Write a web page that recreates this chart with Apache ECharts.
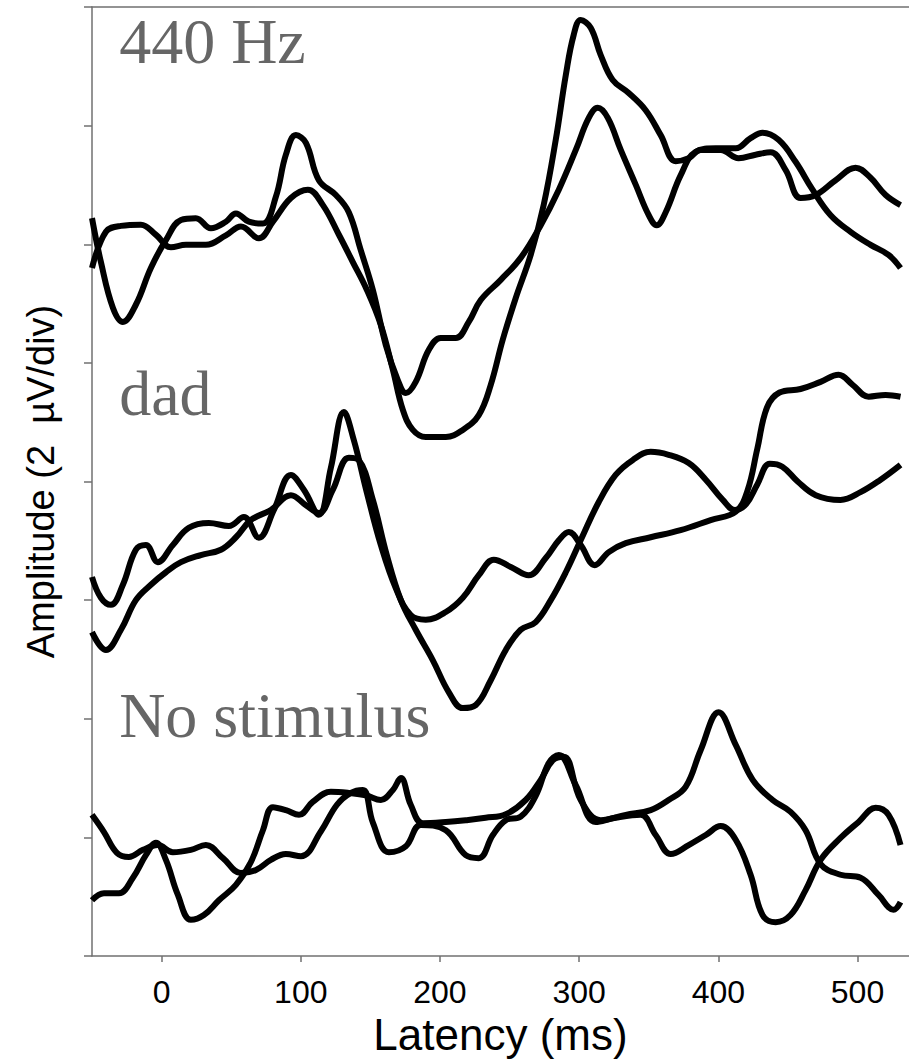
<!DOCTYPE html>
<html><head><meta charset="utf-8">
<script src="https://cdn.jsdelivr.net/npm/echarts@6/dist/echarts.min.js"></script>
<style>html,body{margin:0;padding:0;background:#fff}#c{width:909px;height:1063px}</style>
</head><body><div id="c"></div>
<script>
// Latency ticks (ms)
const xTicks = [0, 100, 200, 300, 400, 500];
const xRange = [-50, 537];
const yRange = [0, 16]; // µV, 2 µV per division
const yStep = 2;

// 440 Hz traces: [latency ms, amplitude µV]
const hz440A = [[-50,12.44],[-43.6,11.70],[-35,10.93],[-27.8,10.69],[-18.5,10.98],[-7.7,11.60],[3.1,12.07],[13.9,12.41],[24.6,12.44],[35.4,12.27],[46.2,12.38],[53.4,12.52],[62.7,12.38],[72.8,12.35],[82.1,12.80],[89.3,13.51],[96.5,13.84],[103.7,13.71],[113,13.08],[125.2,12.83],[134.5,12.54],[143.1,11.90],[151.8,11.23],[161.1,10.30],[169.7,9.71],[175.5,9.49],[182.6,9.68],[192,10.22],[200.6,10.42],[211.4,10.42],[220.7,10.69],[229.3,11.06],[243.7,11.40],[258,11.77],[272.4,12.32],[285.4,12.92],[297.6,13.59],[306.9,14.13],[313.4,14.30],[320.6,14.13],[329.9,13.59],[340.7,13.00],[350,12.49],[355.7,12.32],[362.2,12.54],[372.9,13.16],[383.7,13.56],[398.1,13.62],[412.5,13.62],[423.2,13.79],[431.8,13.88],[443.3,13.76],[455.5,13.39],[467.7,12.92],[480.7,12.49],[495,12.21],[509.4,11.99],[522.3,11.82],[530.9,11.60]];
const hz440B = [[-50,11.60],[-40,12.21],[-29.2,12.31],[-14.9,12.33],[-4.1,12.16],[6.7,11.95],[17.5,11.99],[31.8,11.99],[46.2,12.15],[57,12.30],[69.9,12.10],[80,12.38],[92.9,12.78],[105.1,12.92],[115.9,12.66],[127.4,12.16],[137.4,11.70],[147.5,11.23],[157.5,10.64],[166.2,9.88],[173.3,9.21],[180.5,8.87],[189.8,8.75],[204.2,8.75],[216.4,8.87],[227.9,9.12],[236.5,9.63],[245.1,10.39],[254.4,11.09],[265.2,11.82],[274.5,12.66],[283.2,13.76],[290.4,14.85],[296.1,15.53],[301.1,15.78],[308.3,15.65],[315.5,15.19],[324.1,14.77],[335.6,14.55],[347.8,14.26],[358.6,13.84],[369.4,13.40],[378.7,13.45],[387.3,13.59],[401.7,13.59],[414.6,13.45],[426.8,13.51],[437.6,13.55],[448.4,13.25],[459.1,12.78],[469.9,12.83],[484.3,13.08],[498.6,13.29],[509.4,13.12],[520.2,12.83],[530.9,12.66]];

// "dad" traces
const dadA = [[-50,6.39],[-43.6,6.04],[-36.4,5.92],[-27.8,6.26],[-18.5,6.85],[-11.3,6.93],[-2.7,6.64],[8.1,6.93],[19.6,7.22],[34,7.30],[48.3,7.25],[59.1,7.40],[69.9,7.05],[80.7,7.52],[92.9,8.11],[102.2,7.86],[113,7.44],[121.6,8.23],[131,9.17],[138.1,8.70],[147.4,7.82],[157.5,6.93],[168.3,6.20],[179,5.75],[189.8,5.67],[204.2,5.80],[216.4,6.04],[227.9,6.42],[238.7,6.68],[250.9,6.56],[263.8,6.42],[276,6.71],[285.4,7.01],[292.6,7.15],[301.1,6.93],[311.2,6.59],[321.3,6.81],[333.5,6.96],[351.4,7.06],[372.9,7.18],[394.5,7.35],[412.5,7.49],[421,7.85],[428,8.55],[435,9.25],[444,9.50],[459.1,9.56],[473.5,9.68],[486.4,9.80],[496.5,9.63],[508,9.43],[520.2,9.46],[530.9,9.43]];
const dadB = [[-50,5.46],[-40,5.16],[-29.2,5.50],[-18.5,6.00],[-7.7,6.26],[3.1,6.47],[13.9,6.64],[28.2,6.76],[42.6,6.85],[53.4,7.06],[64.1,7.35],[78.5,7.52],[92.9,7.77],[103.7,7.60],[113,7.47],[123,7.86],[134.5,8.40],[141.7,8.36],[151.8,7.69],[161.8,6.76],[171.9,6.00],[182.6,5.50],[194.8,4.99],[206.3,4.45],[216.4,4.18],[225.7,4.23],[236.5,4.65],[247.3,5.16],[258,5.50],[268.8,5.63],[279.6,6.00],[290.4,6.47],[301.1,7.01],[314,7.65],[326.2,8.11],[338.4,8.36],[351.4,8.50],[364.3,8.45],[378.7,8.31],[391,8.03],[403.2,7.69],[412,7.52],[420,7.62],[428,7.95],[437,8.30],[446,8.25],[457,8.00],[470,7.77],[487.8,7.69],[502.2,7.82],[516.6,8.03],[530.9,8.28]];

// "No stimulus" traces
const noneA = [[-50,2.38],[-41.4,2.09],[-32.1,1.74],[-23.5,1.67],[-13.4,1.79],[-2.7,1.87],[8.1,1.75],[21,1.79],[31.8,1.87],[44.1,1.65],[57,1.40],[67.8,1.45],[78.5,1.62],[89.3,1.72],[100.1,1.68],[114.4,2.10],[126,2.55],[136,2.75],[144.6,2.80],[151.8,2.25],[163.3,1.75],[175.5,1.85],[186.2,2.21],[204.2,2.12],[218.5,1.70],[227.9,1.65],[238,2.04],[247.3,2.29],[258,2.35],[268.8,2.70],[278.1,3.25],[285.4,3.39],[297.6,2.88],[311.9,2.26],[326.2,2.33],[344.2,2.38],[355,2.04],[365.8,1.72],[378.7,1.87],[391,2.04],[401.7,2.19],[412.5,1.96],[423.2,1.37],[431.8,0.69],[441.2,0.57],[451.9,0.69],[462.7,1.11],[473.5,1.62],[487.8,1.99],[500.8,2.26],[513,2.50],[522.3,2.38],[530.9,1.87]];
const noneB = [[-50,0.94],[-41.4,1.06],[-30.6,1.06],[-20.6,1.32],[-11.3,1.70],[-4.1,1.91],[3.1,1.62],[11.7,1.03],[21,0.61],[30.4,0.69],[41.2,0.94],[53.4,1.20],[64.1,1.58],[72.8,2.12],[80,2.51],[89.3,2.46],[98.7,2.38],[108.7,2.60],[121.6,2.77],[134.5,2.75],[146.7,2.71],[157.5,2.63],[166.2,2.80],[171.9,3.00],[179,2.55],[187.7,2.24],[204.2,2.26],[218.5,2.29],[232.8,2.33],[247.3,2.39],[261.6,2.63],[272.4,2.97],[281,3.30],[288.9,3.36],[301.1,2.63],[315.5,2.29],[333.5,2.38],[351.4,2.46],[364.3,2.63],[376.5,2.85],[387.3,3.47],[400.2,4.11],[412.5,3.56],[424.7,2.97],[439,2.63],[451.9,2.43],[462.7,2.12],[473.5,1.55],[487.8,1.37],[502.2,1.32],[515.1,1.03],[525.9,0.78],[530.9,0.91]];

// Condition labels placed in data coordinates
const condNames = ['440 Hz', 'dad', 'No stimulus'];
const condPos = [[-30.5, 15.42], [-30.5, 9.49], [-30.5, 4.05]];

const traces = [hz440A, hz440B, dadA, dadB, noneA, noneB];
const axisGray = '#707070';

const chart = echarts.init(document.getElementById('c'), null, {renderer: 'svg'});
chart.setOption({
  animation: false,
  backgroundColor: '#ffffff',
  grid: {left: 92, right: 0, top: 7, bottom: 107},
  xAxis: [{
    type: 'value', min: xRange[0], max: xRange[1],
    name: 'Latency (ms)', nameLocation: 'middle', nameGap: 53,
    nameTextStyle: {fontFamily: 'Liberation Sans', fontSize: 44, color: '#000'},
    axisLine: {show: true, onZero: false, lineStyle: {color: axisGray, width: 1.5}},
    axisTick: {show: true, inside: false, length: 6, customValues: xTicks, lineStyle: {color: axisGray, width: 1.5}},
    axisLabel: {show: true, customValues: xTicks, margin: 20, fontFamily: 'Liberation Sans', fontSize: 32, color: '#000'},
    splitLine: {show: false}
  }, {
    type: 'value', position: 'top', min: xRange[0], max: xRange[1],
    axisLine: {show: true, onZero: false, lineStyle: {color: axisGray, width: 1.5}},
    axisTick: {show: false}, axisLabel: {show: false}, splitLine: {show: false}
  }],
  yAxis: {
    type: 'value', min: yRange[0], max: yRange[1], interval: yStep,
    name: 'Amplitude (2  \u00B5V/div)', nameLocation: 'middle', nameGap: 32,
    nameTextStyle: {fontFamily: 'Liberation Sans', fontSize: 38, color: '#000'},
    axisLine: {show: true, onZero: false, lineStyle: {color: axisGray, width: 1.5}},
    axisTick: {show: true, inside: false, length: 8, lineStyle: {color: axisGray, width: 1.5}},
    axisLabel: {show: false},
    splitLine: {show: false}
  },
  series: traces.map(d => ({
    type: 'line', data: d, smooth: 0.4, showSymbol: false, symbol: 'none',
    lineStyle: {color: '#000', width: 6}, z: 3
  })).concat([{
    type: 'scatter', symbolSize: 0, z: 4,
    data: condPos.map((p, i) => ({name: condNames[i], value: p})),
    label: {show: true, position: 'right', distance: 0, formatter: p => p.name,
      fontFamily: 'Liberation Serif', fontSize: 64, color: '#404040', align: 'left', verticalAlign: 'middle'}
  }])
});
</script>
</body></html>
